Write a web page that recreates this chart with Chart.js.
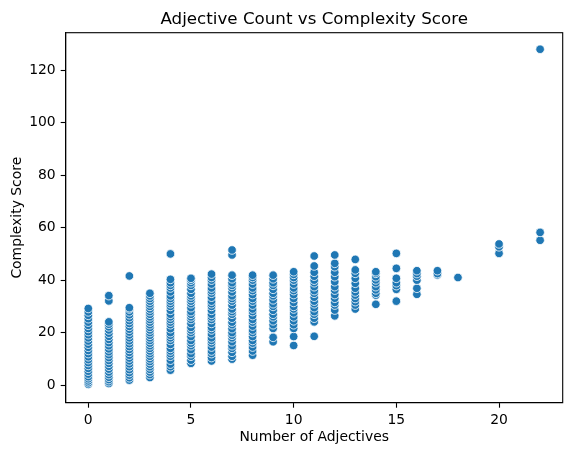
<!DOCTYPE html>
<html>
<head>
<meta charset="utf-8">
<title>Adjective Count vs Complexity Score</title>
<script src="https://cdn.jsdelivr.net/npm/chart.js@4.4.1/dist/chart.umd.min.js"></script>
<style>
  html, body { margin: 0; padding: 0; background: #fff; }
  #wrap { width: 571px; height: 455px; }
</style>
</head>
<body>
<div id="wrap"><canvas id="scatter" width="571" height="455"></canvas></div>
<script>
// подписи
const chartTitle = 'Adjective Count vs Complexity Score';
const xLabel = 'Number of Adjectives';
const yLabel = 'Complexity Score';
const xTicks = [0, 5, 10, 15, 20];
const yTicks = [0, 20, 40, 60, 80, 100, 120];

// значения complexity score для каждого числа прилагательных
const adj0 = [0.3, 0.9, 1.6, 2.4, 3.2, 4.2, 5.3, 6.4, 7.5, 8.6, 9.7, 10.8, 12, 13.2, 14.4, 15.6, 16.8, 18, 19.2, 20.4, 21.6, 22.8, 24, 25.3, 26.6, 27.9, 29.2];
const adj1 = [0.6, 1.3, 2.1, 3, 4, 5, 6.1, 7.2, 8.3, 9.4, 10.5, 11.6, 12.7, 13.8, 15, 16.2, 17.4, 18.6, 19.8, 21, 22.2, 23.2, 24.1, 32.1, 34.1];
const adj2 = [1.9, 2.8, 3.8, 4.8, 5.9, 7, 8.1, 9.2, 10.3, 11.4, 12.5, 13.6, 14.7, 15.8, 16.9, 18, 19.1, 20.2, 21.3, 22.4, 23.5, 24.6, 25.7, 26.8, 27.9, 29, 29.5, 41.6];
const adj3 = [2.9, 4, 5, 6, 7, 8, 9, 10, 11, 12, 13, 14, 15, 16, 17, 18, 19, 20, 21, 22, 23, 24, 25, 26, 27, 28, 29, 30, 31, 32, 33, 34, 35];
const adj4 = [5.7, 7, 8, 9.5, 11, 12, 13, 14, 15.5, 17, 18, 19, 20, 21.5, 23, 24, 25, 26, 27, 28.5, 30, 31, 32, 33, 34, 35.5, 37, 38, 39, 40.3, 50];
const adj5 = [8.3, 9.5, 11, 12, 13.5, 15, 16, 17, 18.5, 20, 21, 22, 23.5, 25, 26, 27, 28, 29.5, 31, 32, 33, 34, 35, 36.5, 38, 39, 40, 40.7];
const adj6 = [9.2, 10.5, 12, 13, 14.5, 16, 17, 18, 19.5, 21, 22, 23.5, 25, 26, 27, 28.5, 30, 31, 32, 33.5, 35, 36, 37, 38.5, 40, 41, 42.3];
const adj7 = [9.9, 11, 12.5, 14, 15, 16.5, 18, 19, 20, 21.5, 23, 24, 25.5, 27, 28, 29, 30.5, 32, 33, 34, 35.5, 37, 38, 39, 40.5, 41.9, 49.6, 51.5];
const adj8 = [11.4, 13, 14.5, 16, 17, 18.5, 20, 21, 22.5, 24, 25, 26.5, 28, 29, 30.5, 32, 33, 34.5, 36, 37, 38.5, 40, 41, 41.9];
const adj9 = [16.5, 18.2, 21.6, 23, 24.5, 26, 27, 28.5, 30, 31, 32.5, 34, 35, 36.5, 38, 39, 40.5, 41.9];
const adj10 = [15.1, 18.5, 21.6, 23, 24.5, 26, 27.5, 29, 30, 31.5, 33, 34.5, 36, 37, 38.5, 40, 41, 42.2, 43.2];
const adj11 = [18.6, 24.1, 25.5, 27, 28, 29.5, 31, 32, 33.5, 35, 36, 37.5, 39, 40, 41.5, 43, 45.4, 49.2];
const adj12 = [26.4, 28.6, 30.5, 31.5, 33.1, 34.5, 36.2, 37.5, 39.4, 41.3, 43, 45.1, 46.4, 49.6];
const adj13 = [29, 30.5, 31.8, 33, 34.3, 35.5, 36.9, 38.8, 40.7, 42.6, 43.9, 47.9];
const adj14 = [30.8, 34.3, 35, 36.3, 37.5, 39, 40.1, 41.3, 42.6, 43.2];
const adj15 = [32, 36.5, 37.9, 39, 40.7, 44.5, 50.2];
const adj16 = [34.6, 36.9, 40, 41.5, 42.5, 43.6];
const adj17 = [42, 42.5, 43.6];
const adj18 = [41];
const adj20 = [50.2, 52.7, 53.8];
const adj22 = [55.2, 58.2, 128];

const adjCounts = [0, 1, 2, 3, 4, 5, 6, 7, 8, 9, 10, 11, 12, 13, 14, 15, 16, 17, 18, 20, 22];
const scores = [adj0, adj1, adj2, adj3, adj4, adj5, adj6, adj7, adj8, adj9, adj10,
                adj11, adj12, adj13, adj14, adj15, adj16, adj17, adj18, adj20, adj22];

// сборка точек
var points = [];
for (var i = 0; i < adjCounts.length; i++) {
    for (var j = 0; j < scores[i].length; j++) {
        points.push({ x: adjCounts[i], y: scores[i][j] });
    }
}

const mplFont = 'DejaVu Sans';
Chart.defaults.font.family = mplFont;
Chart.defaults.font.size = 13.9;
Chart.defaults.color = '#000';

// рамка и заголовок как в matplotlib
const framePlugin = {
    id: 'frame',
    afterDraw(chart) {
        const { ctx, chartArea: a } = chart;
        ctx.save();
        ctx.strokeStyle = '#000';
        ctx.lineWidth = 1.1;
        ctx.strokeRect(a.left, a.top, a.right - a.left, a.bottom - a.top);
        ctx.font = '16.7px "' + mplFont + '"';
        ctx.fillStyle = '#000';
        ctx.textAlign = 'center';
        ctx.textBaseline = 'alphabetic';
        ctx.fillText(chartTitle, (a.left + a.right) / 2, a.top - 8.3);
        ctx.restore();
    }
};

function fixedTicks(values) {
    return function (scale) {
        scale.ticks = values.map(v => ({ value: v }));
    };
}

new Chart(document.getElementById('scatter'), {
    type: 'scatter',
    data: {
        datasets: [{
            label: yLabel,
            data: points,
            backgroundColor: '#1f77b4',
            borderColor: '#ffffff',
            borderWidth: 0.8,
            pointRadius: 4.3,
            pointHoverRadius: 4.3
        }]
    },
    options: {
        responsive: false,
        animation: false,
        layout: { padding: { top: 32.7, right: 8.3, left: 0, bottom: 0 } },
        plugins: {
            legend: { display: false },
            tooltip: { enabled: false },
            title: { display: false }
        },
        scales: {
            x: {
                type: 'linear',
                min: -1.1,
                max: 23.1,
                afterBuildTicks: fixedTicks(xTicks),
                afterFit: function (scale) { scale.height = 52.3; },
                grid: { drawOnChartArea: false, tickLength: 5, color: '#000', tickWidth: 1.1 },
                border: { display: true, color: '#000', width: 1.1 },
                ticks: { padding: 4, maxRotation: 0, color: '#000' },
                title: { display: true, text: xLabel, padding: { top: 0, bottom: 9.6 }, color: '#000' }
            },
            y: {
                type: 'linear',
                min: -6.7,
                max: 134.3,
                afterBuildTicks: fixedTicks(yTicks),
                afterFit: function (scale) { scale.width = 65.7; },
                grid: { drawOnChartArea: false, tickLength: 5, color: '#000', tickWidth: 1.1 },
                border: { display: true, color: '#000', width: 1.1 },
                ticks: { padding: 5, color: '#000' },
                title: { display: true, text: yLabel, padding: { top: 9, bottom: 0 }, color: '#000' }
            }
        }
    },
    plugins: [framePlugin]
});
</script>
</body>
</html>
